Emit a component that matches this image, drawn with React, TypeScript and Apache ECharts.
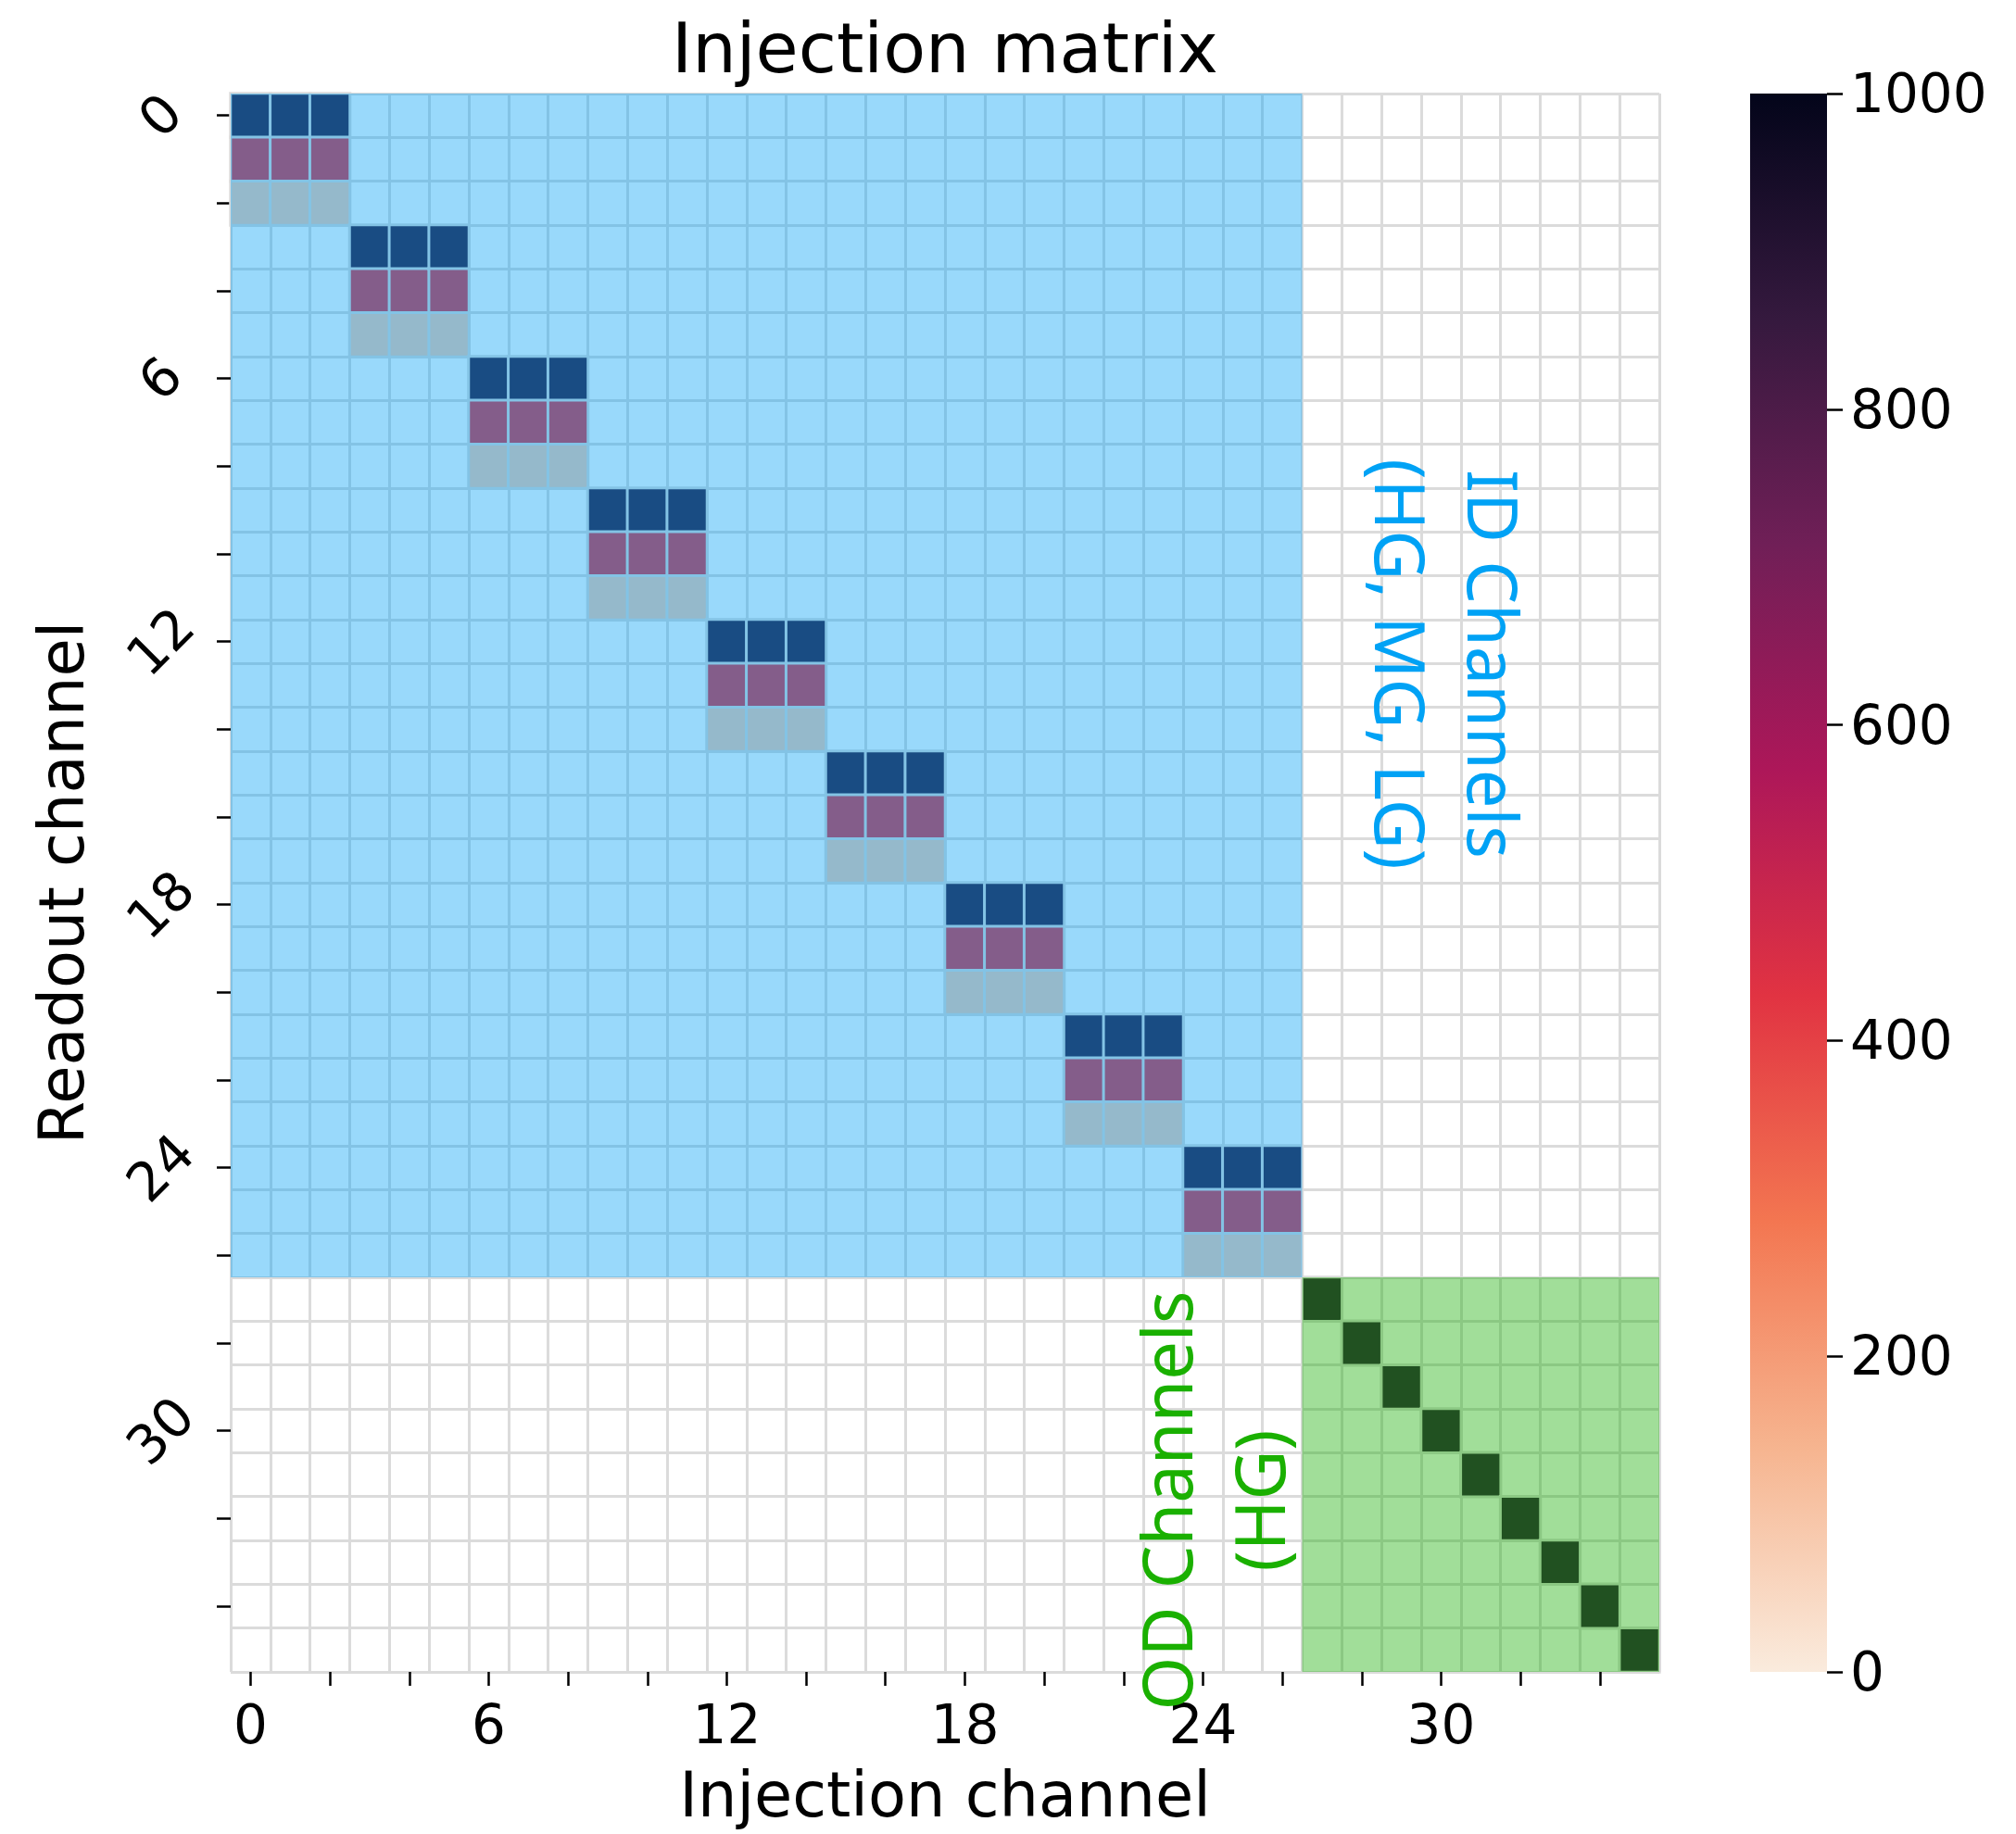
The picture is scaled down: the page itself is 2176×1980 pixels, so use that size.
import React, { useEffect, useRef } from 'react';
import * as echarts from 'echarts';

// Channel indices shared by both axes (0..35)
const channels: string[] = [
  '0', '1', '2', '3', '4', '5', '6', '7', '8', '9', '10', '11',
  '12', '13', '14', '15', '16', '17', '18', '19', '20', '21', '22', '23',
  '24', '25', '26', '27', '28', '29', '30', '31', '32', '33', '34', '35',
];

// ID channels: 9 injection groups of 3 channels, read out on HG / MG / LG rows
const idGroupStart = [0, 3, 6, 9, 12, 15, 18, 21, 24];
const hgResponse = [885, 885, 885, 885, 885, 885, 885, 885, 885];
const mgResponse = [440, 440, 440, 440, 440, 440, 440, 440, 440];
const lgResponse = [85, 85, 85, 85, 85, 85, 85, 85, 85];

// OD channels: each injection channel reads back on its own HG channel
const odChannels = [27, 28, 29, 30, 31, 32, 33, 34, 35];
const odResponse = [885, 885, 885, 885, 885, 885, 885, 885, 885];

// Highlighted channel blocks: [x0, y0, x1, y1] in channel indices
const idRegion = [0, 0, 26, 26];
const odRegion = [27, 27, 35, 35];

// Colour scale (rocket, light to dark) and colour-bar ticks
const colorMin = 0;
const colorMax = 1000;
const colorStep = 200;
const rocketStops = ['#FAEBDD', '#F6B48F', '#F37651', '#E13342', '#AD1759', '#701F57', '#35193E', '#03051A'];

const FONT = 'DejaVu Sans';
const NOTE_FONT = 'Noto Sans';
const GRID_LINE = '#dbdbdb';

const PLOT = { left: 249, top: 101, width: 1542, height: 1704 };
const BAR = { left: 1889, top: 101, width: 83, height: 1704 };

function buildCells(): number[][] {
  const cells: number[][] = [];
  idGroupStart.forEach((start, g) => {
    for (let c = 0; c < 3; c++) {
      const x = start + c;
      cells.push([x, start, hgResponse[g]]);
      cells.push([x, start + 1, mgResponse[g]]);
      cells.push([x, start + 2, lgResponse[g]]);
    }
  });
  odChannels.forEach((ch, i) => {
    cells.push([ch, ch, odResponse[i]]);
  });
  return cells;
}

const overlayFills = ['rgba(0,160,245,0.4)', 'rgba(20,172,0,0.4)'];

function buildOption(): echarts.EChartsOption {
  const tickStyle = { color: '#000', width: 2.5 };
  const gradientStops = rocketStops
    .slice()
    .reverse()
    .map((c, i, arr) => ({ offset: i / (arr.length - 1), color: c }));

  return {
    animation: false,
    backgroundColor: '#ffffff',
    grid: [
      { left: PLOT.left, top: PLOT.top, width: PLOT.width, height: PLOT.height, containLabel: false },
      { left: BAR.left, top: BAR.top, width: BAR.width, height: BAR.height, containLabel: false },
    ],
    xAxis: [
      {
        type: 'category',
        gridIndex: 0,
        data: channels,
        boundaryGap: true,
        axisLine: { show: false },
        axisTick: { show: true, alignWithLabel: true, interval: 1, length: 15, lineStyle: tickStyle },
        axisLabel: { interval: 5, margin: 28, fontSize: 58, fontFamily: FONT, color: '#000' },
        splitLine: { show: true, interval: 0, lineStyle: { color: GRID_LINE, width: 3 } },
      },
      {
        type: 'category',
        gridIndex: 1,
        data: [''],
        show: false,
      },
    ],
    yAxis: [
      {
        type: 'category',
        gridIndex: 0,
        data: channels,
        inverse: true,
        boundaryGap: true,
        axisLine: { show: false },
        axisTick: { show: true, alignWithLabel: true, interval: 1, length: 15, lineStyle: tickStyle },
        axisLabel: {
          interval: 5,
          rotate: 45,
          align: 'center',
          verticalAlign: 'middle',
          margin: 76,
          fontSize: 58,
          fontFamily: FONT,
          color: '#000',
        },
        splitLine: { show: true, interval: 0, lineStyle: { color: GRID_LINE, width: 3 } },
      },
      {
        type: 'value',
        gridIndex: 1,
        position: 'right',
        min: colorMin,
        max: colorMax,
        interval: colorStep,
        axisLine: { show: false },
        axisTick: { show: true, length: 17, lineStyle: tickStyle },
        axisLabel: {
          margin: 25,
          fontSize: 58,
          fontFamily: FONT,
          color: '#000',
          formatter: (v: number) => String(v),
        },
        splitLine: { show: false },
      },
    ],
    visualMap: {
      type: 'continuous',
      show: false,
      seriesIndex: 0,
      min: colorMin,
      max: colorMax,
      inRange: { color: rocketStops },
    },
    series: [
      {
        type: 'heatmap',
        xAxisIndex: 0,
        yAxisIndex: 0,
        data: buildCells(),
        z: 2,
        silent: true,
        itemStyle: { borderColor: GRID_LINE, borderWidth: 3 },
        emphasis: { disabled: true },
      },
      {
        type: 'custom',
        xAxisIndex: 0,
        yAxisIndex: 0,
        z: 3,
        silent: true,
        data: [idRegion, odRegion],
        encode: { x: [0, 2], y: [1, 3] },
        renderItem: (params: any, api: any) => {
          const a = api.coord([api.value(0), api.value(1)]);
          const b = api.coord([api.value(2), api.value(3)]);
          const size = api.size([1, 1]);
          const x = Math.min(a[0], b[0]) - size[0] / 2;
          const y = Math.min(a[1], b[1]) - size[1] / 2;
          return {
            type: 'rect',
            shape: {
              x,
              y,
              width: Math.abs(b[0] - a[0]) + size[0],
              height: Math.abs(b[1] - a[1]) + size[1],
            },
            style: { fill: overlayFills[params.dataIndex], stroke: null },
          };
        },
      },
      {
        type: 'bar',
        xAxisIndex: 1,
        yAxisIndex: 1,
        data: [colorMax],
        barWidth: '100%',
        silent: true,
        itemStyle: {
          color: new echarts.graphic.LinearGradient(0, 0, 0, 1, gradientStops),
        },
      },
    ],
    graphic: [
      {
        type: 'text',
        x: PLOT.left + PLOT.width / 2,
        y: 52,
        style: {
          text: 'Injection matrix',
          fontSize: 75,
          fontFamily: FONT,
          fill: '#000',
          align: 'center',
          verticalAlign: 'middle',
        },
      },
      {
        type: 'text',
        x: PLOT.left + PLOT.width / 2,
        y: 1938,
        style: {
          text: 'Injection channel',
          fontSize: 67,
          fontFamily: FONT,
          fill: '#000',
          align: 'center',
          verticalAlign: 'middle',
        },
      },
      {
        type: 'text',
        x: 67,
        y: PLOT.top + PLOT.height / 2,
        rotation: Math.PI / 2,
        style: {
          text: 'Readout channel',
          fontSize: 67,
          fontFamily: FONT,
          fill: '#000',
          align: 'center',
          verticalAlign: 'middle',
        },
      },
      {
        type: 'text',
        x: 1562,
        y: 717,
        rotation: -Math.PI / 2,
        z: 100,
        style: {
          text: 'ID Channels\n(HG, MG, LG)',
          fontSize: 74,
          lineHeight: 100,
          fontFamily: NOTE_FONT,
          fill: '#00A2F5',
          align: 'center',
          verticalAlign: 'middle',
        },
      },
      {
        type: 'text',
        x: 1308,
        y: 1620,
        rotation: Math.PI / 2,
        z: 100,
        style: {
          text: 'OD Channels\n(HG)',
          fontSize: 74,
          lineHeight: 100,
          fontFamily: NOTE_FONT,
          fill: '#1AB000',
          align: 'center',
          verticalAlign: 'middle',
        },
      },
    ],
  } as echarts.EChartsOption;
}

export default function App() {
  const ref = useRef<HTMLDivElement>(null);

  useEffect(() => {
    if (!ref.current) return;
    const chart = echarts.init(ref.current, null, { renderer: 'svg' });
    chart.setOption(buildOption());
    return () => {
      chart.dispose();
    };
  }, []);

  return (
    <div
      ref={ref}
      style={{ position: 'absolute', left: 0, top: 0, width: 2176, height: 1980, background: '#ffffff' }}
    />
  );
}
